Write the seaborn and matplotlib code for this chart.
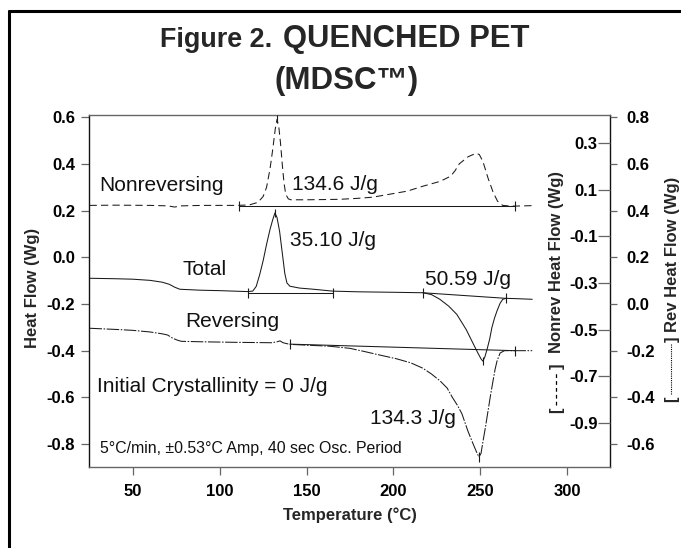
import numpy as np
import pandas as pd
import matplotlib
matplotlib.use("Agg")
import matplotlib.pyplot as plt
import seaborn as sns
from matplotlib.lines import Line2D

# ---------------- data ----------------
# Total heat flow (left axis, W/g)
total_T = [25, 40, 50, 60, 67, 71, 74, 77, 88.6, 100, 116, 119, 121, 123, 125, 127, 129,
           130.5, 131.8, 133, 134.5, 135.5, 136.4, 137.5, 138.7, 140.4, 146, 154, 165, 180,
           200, 217, 222, 226.8, 232, 236.6, 242, 246, 248.7, 250.5, 251.6, 252.8, 254,
           255.5, 256.8, 258.3, 259.7, 261.5, 263, 265, 270, 280]
total_v = [-0.090, -0.092, -0.094, -0.099, -0.107, -0.116, -0.128, -0.137, -0.141, -0.143,
           -0.147, -0.145, -0.125, -0.075, -0.015, 0.056, 0.120, 0.160, 0.190, 0.170, 0.110,
           0.050, -0.004, -0.070, -0.110, -0.124, -0.132, -0.137, -0.145, -0.148, -0.150,
           -0.152, -0.160, -0.180, -0.210, -0.245, -0.310, -0.370, -0.410, -0.435, -0.445,
           -0.425, -0.394, -0.350, -0.300, -0.260, -0.230, -0.197, -0.180, -0.176, -0.177,
           -0.180]

# Nonreversing heat flow (inner right axis, W/g)
nonrev_T = [25, 40, 60, 70, 74, 78, 90, 110, 117, 122, 125, 127, 129, 130.5, 132, 133, 134,
            135, 136, 137, 138, 139.5, 141, 150, 160, 169, 179, 188, 198, 208, 217, 227, 233,
            235.5, 238, 243, 247.6, 249.5, 251.6, 254.5, 257.4, 260, 263, 266, 270, 280]
nonrev_v = [0.032, 0.033, 0.032, 0.030, 0.025, 0.030, 0.032, 0.032, 0.034, 0.045, 0.070,
            0.110, 0.190, 0.270, 0.360, 0.400, 0.370, 0.300, 0.210, 0.130, 0.080, 0.060,
            0.056, 0.056, 0.057, 0.058, 0.062, 0.067, 0.080, 0.093, 0.114, 0.135, 0.157,
            0.180, 0.210, 0.240, 0.255, 0.250, 0.220, 0.150, 0.090, 0.050, 0.032, 0.030,
            0.029, 0.031]

# Reversing heat flow (outer right axis, W/g)
rev_T = [25, 40, 50, 60, 67, 70, 73, 76, 78, 90, 107, 130, 133, 134.7, 136.5, 140.4, 155,
         163.5, 175, 183, 190, 202, 210, 217, 222, 227, 231, 234, 237, 239.5, 243, 246, 248,
         249.3, 250.5, 251.6, 253, 254.5, 256, 257.4, 258.6, 259.7, 261.5, 264, 270, 280]
rev_v = [-0.104, -0.109, -0.113, -0.120, -0.128, -0.133, -0.147, -0.156, -0.160, -0.162,
         -0.164, -0.166, -0.162, -0.158, -0.166, -0.173, -0.178, -0.181, -0.190, -0.203,
         -0.215, -0.235, -0.252, -0.275, -0.300, -0.330, -0.360, -0.400, -0.435, -0.470,
         -0.545, -0.600, -0.635, -0.655, -0.640, -0.590, -0.530, -0.460, -0.390, -0.330,
         -0.280, -0.245, -0.210, -0.200, -0.200, -0.200]

# integration baselines (limits)
nonrev_base_T, nonrev_base_v = [111, 270], [0.029, 0.029]
total_base1_T, total_base1_v = [116, 165], [-0.152, -0.152]
total_base2_T, total_base2_v = [217, 265], [-0.152, -0.176]
rev_base_T, rev_base_v = [140.4, 270], [-0.172, -0.200]

# peak markers
nonrev_peak = (133, 0.400)
total_peaks_T, total_peaks_v = [131.8, 251.6], [0.190, -0.445]
rev_peak = (249.3, -0.655)

x_ticks = [50, 100, 150, 200, 250, 300]
left_ticks = [-0.8, -0.6, -0.4, -0.2, 0.0, 0.2, 0.4, 0.6]
rev_ticks = [-0.6, -0.4, -0.2, 0.0, 0.2, 0.4, 0.6, 0.8]
nonrev_ticks = [-0.9, -0.7, -0.5, -0.3, -0.1, 0.1, 0.3]

# ---------------- figure ----------------
sns.set_theme(style="ticks")
plt.rcParams["font.family"] = ["Liberation Sans", "DejaVu Sans"]
plt.rcParams["axes.unicode_minus"] = False

W, H = 681, 548
fig = plt.figure(figsize=(W / 100, H / 100), dpi=100)
fig.patch.set_facecolor("white")


def fx(px):
    return px / W


def fy(py):
    return 1 - py / H


ax = fig.add_axes([fx(89), fy(467), fx(610) - fx(89), fy(115) - fy(467)])
ax.set_facecolor("none")
ax_rev = ax.twinx()
ax_nr = ax.twinx()

ax.set_xlim(24.7, 324.8)
ax.set_ylim(-0.898, 0.609)
ax_rev.set_ylim(-0.698, 0.809)
ax_nr.set_ylim(-1.088, 0.419)

LC = "#1a1a1a"
LW = 0.75

# curves
sns.lineplot(x=total_T, y=total_v, ax=ax, color=LC, linewidth=LW, sort=False,
             estimator=None, legend=False)
sns.lineplot(x=nonrev_T, y=nonrev_v, ax=ax_nr, color=LC, linewidth=LW, sort=False,
             estimator=None, legend=False, linestyle=(0, (7, 4)))
sns.lineplot(x=rev_T, y=rev_v, ax=ax_rev, color=LC, linewidth=LW, sort=False,
             estimator=None, legend=False, linestyle=(0, (12, 1.5, 1.5, 1.5)))

# baselines with limit ticks
for a, bx, by in [(ax_nr, nonrev_base_T, nonrev_base_v),
                  (ax, total_base1_T, total_base1_v),
                  (ax, total_base2_T, total_base2_v),
                  (ax_rev, rev_base_T, rev_base_v)]:
    sns.lineplot(x=bx, y=by, ax=a, color=LC, linewidth=LW, sort=False,
                 estimator=None, legend=False)
    a.plot(bx, by, linestyle="none", marker="|", markersize=7, markeredgewidth=0.8,
           color=LC)

ax_nr.plot([nonrev_peak[0]], [nonrev_peak[1]], linestyle="none", marker="|",
           markersize=6, markeredgewidth=0.8, color=LC, clip_on=False)
ax.plot(total_peaks_T, total_peaks_v, linestyle="none", marker="|", markersize=6,
        markeredgewidth=0.8, color=LC)
ax_rev.plot([rev_peak[0]], [rev_peak[1]], linestyle="none", marker="|", markersize=7,
            markeredgewidth=0.8, color=LC)

# ---------------- axes styling ----------------
TC = "#666666"
ax.set_xticks(x_ticks)
ax.set_xticklabels([str(v) for v in x_ticks])
ax.set_yticks(left_ticks)
ax.set_yticklabels([f"{v:.1f}" for v in left_ticks])
ax.tick_params(axis="both", direction="out", length=6, width=0.9, color=TC,
               labelsize=12, labelcolor="black")
ax.tick_params(axis="x", pad=6)
ax.tick_params(axis="y", pad=4)
for lab in ax.get_xticklabels() + ax.get_yticklabels():
    lab.set_fontweight("bold")
ax.set_xlabel("")
ax.set_ylabel("")

ax_rev.set_yticks(rev_ticks)
ax_rev.set_yticklabels([f"{v:.1f}" for v in rev_ticks])
ax_rev.tick_params(axis="y", direction="out", length=5, width=0.9, color=TC,
                   labelsize=12, pad=7, labelcolor="black")
for lab in ax_rev.get_yticklabels():
    lab.set_fontweight("bold")
ax_rev.set_ylabel("")

ax_nr.set_yticks(nonrev_ticks)
ax_nr.set_yticklabels([f"{v:.1f}" for v in nonrev_ticks])
ax_nr.tick_params(axis="y", direction="in", length=9, width=0.9, color=TC,
                  labelsize=12, pad=-9, labelcolor="black")
for lab in ax_nr.get_yticklabels():
    lab.set_fontweight("bold")
    lab.set_horizontalalignment("right")
ax_nr.set_ylabel("")

for a in (ax_rev, ax_nr):
    for s in a.spines.values():
        s.set_visible(False)

ax.spines["left"].set_color("#111111")
ax.spines["right"].set_color("#111111")
ax.spines["top"].set_color(TC)
ax.spines["bottom"].set_color(TC)
for s in ax.spines.values():
    s.set_linewidth(1.0)
    s.set_visible(True)

# ---------------- text ----------------
fig.text(fx(160), fy(47), "Figure 2.", ha="left", va="baseline",
         fontsize=19.4, fontweight="bold")
fig.text(fx(283), fy(47), "QUENCHED PET", ha="left", va="baseline",
         fontsize=22.3, fontweight="bold")
fig.text(fx(347), fy(89), "(MDSC\u2122)", ha="center", va="baseline",
         fontsize=22.5, fontweight="bold")

fig.text(fx(349.5), fy(515), "Temperature (\u00b0C)", ha="center", va="center",
         fontsize=12, fontweight="bold")
fig.text(fx(33), fy(288), "Heat Flow (Wg)", ha="center", va="center", rotation=90,
         fontsize=12, fontweight="bold")

# right-hand labels with line-style brackets
fig.text(fx(557), fy(353), "Nonrev Heat Flow (Wg)", ha="center", va="bottom",
         rotation=90, fontsize=12, fontweight="bold")
fig.text(fx(557), fy(410), "[", ha="center", va="center", rotation=90,
         fontsize=12, fontweight="bold")
fig.text(fx(557), fy(366), "]", ha="center", va="center", rotation=90,
         fontsize=12, fontweight="bold")
fig.add_artist(Line2D([fx(556), fx(556)], [fy(405), fy(371)], transform=fig.transFigure,
                      color="black", lw=0.9, linestyle=(0, (3, 2.5))))

fig.text(fx(672), fy(332), "Rev Heat Flow (Wg)", ha="center", va="bottom",
         rotation=90, fontsize=12, fontweight="bold")
fig.text(fx(672), fy(399), "[", ha="center", va="center", rotation=90,
         fontsize=12, fontweight="bold")
fig.text(fx(672), fy(339), "]", ha="center", va="center", rotation=90,
         fontsize=12, fontweight="bold")
fig.add_artist(Line2D([fx(671), fx(671)], [fy(394), fy(344)], transform=fig.transFigure,
                      color="black", lw=0.8, linestyle=(0, (1, 1))))

annots = [
    (99, 191, "Nonreversing", 15),
    (292, 190, "134.6 J/g", 15),
    (290, 246, "35.10 J/g", 15),
    (183, 275, "Total", 15),
    (185, 327, "Reversing", 15),
    (425, 285, "50.59 J/g", 15),
    (97, 392, "Initial Crystallinity = 0 J/g", 15),
    (370, 424, "134.3 J/g", 15),
    (100, 453, "5\u00b0C/min, \u00b10.53\u00b0C Amp, 40 sec Osc. Period", 11.4),
]
for px, py, s, fs in annots:
    fig.text(fx(px), fy(py), s, ha="left", va="baseline", fontsize=fs, color="#111111")

# outer frame (top and left edges visible)
fig.add_artist(Line2D([fx(9), 1.0], [fy(11), fy(11)], transform=fig.transFigure,
                      color="black", lw=2.2))
fig.add_artist(Line2D([fx(9), fx(9)], [fy(11), 0.0], transform=fig.transFigure,
                      color="black", lw=2.2))

fig.savefig("out.png", dpi=100)
